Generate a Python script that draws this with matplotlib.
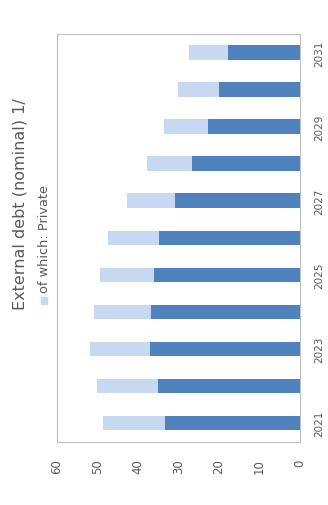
import matplotlib.pyplot as plt
from matplotlib.patches import Rectangle

years = [2021, 2022, 2023, 2024, 2025, 2026, 2027, 2028, 2029, 2030, 2031]
other = [33.3, 35.0, 37.1, 36.8, 36.1, 34.7, 30.9, 26.7, 22.8, 20.0, 17.9]
private = [15.4, 15.2, 14.8, 14.1, 13.2, 12.6, 11.8, 11.2, 10.8, 10.1, 9.5]
value_ticks = [0, 10, 20, 30, 40, 50, 60]
year_ticks = [2021, 2023, 2025, 2027, 2029, 2031]

dark = "#4F81BD"
light = "#C6D9F1"
grey = "#595959"


def main():
    fig = plt.figure(figsize=(3.28, 5.06), dpi=100)
    ax = fig.add_axes([57 / 328, 1 - 442.5 / 506, 243 / 328, 407.5 / 506])

    # chart is drawn turned a quarter turn: bars run right to left
    ax.barh(years, other, height=0.39, color=dark)
    ax.barh(years, private, left=other, height=0.39, color=light)

    ax.set_xlim(60, 0)
    ax.set_ylim(2020.5, 2031.5)
    ax.set_xticks(value_ticks)
    ax.set_xticklabels([str(v) for v in value_ticks], rotation=90,
                       fontsize=8.5, color=grey)
    ax.yaxis.tick_right()
    ax.set_yticks(year_ticks)
    ax.set_yticklabels([str(y) for y in year_ticks], rotation=90,
                       fontsize=7.5, color=grey, va="center")
    ax.tick_params(axis="x", length=0, pad=12)
    ax.tick_params(axis="y", length=0, pad=10)
    for s in ax.spines.values():
        s.set_color("#BFBFBF")

    fig.text(20 / 328, 1 - 204 / 506, "External debt (nominal) 1/",
             rotation=90, ha="center", va="center", fontsize=11.5, color=grey)
    fig.text(44 / 328, 1 - 293 / 506, "of which: Private", rotation=90,
             ha="center", va="bottom", fontsize=9.3, color=grey)
    fig.patches.append(Rectangle((41 / 328, 1 - 305 / 506), 6 / 328, 7 / 506,
                                 transform=fig.transFigure, color=light))

    fig.savefig("out.png", dpi=100)
    plt.close(fig)


if __name__ == "__main__":
    main()
